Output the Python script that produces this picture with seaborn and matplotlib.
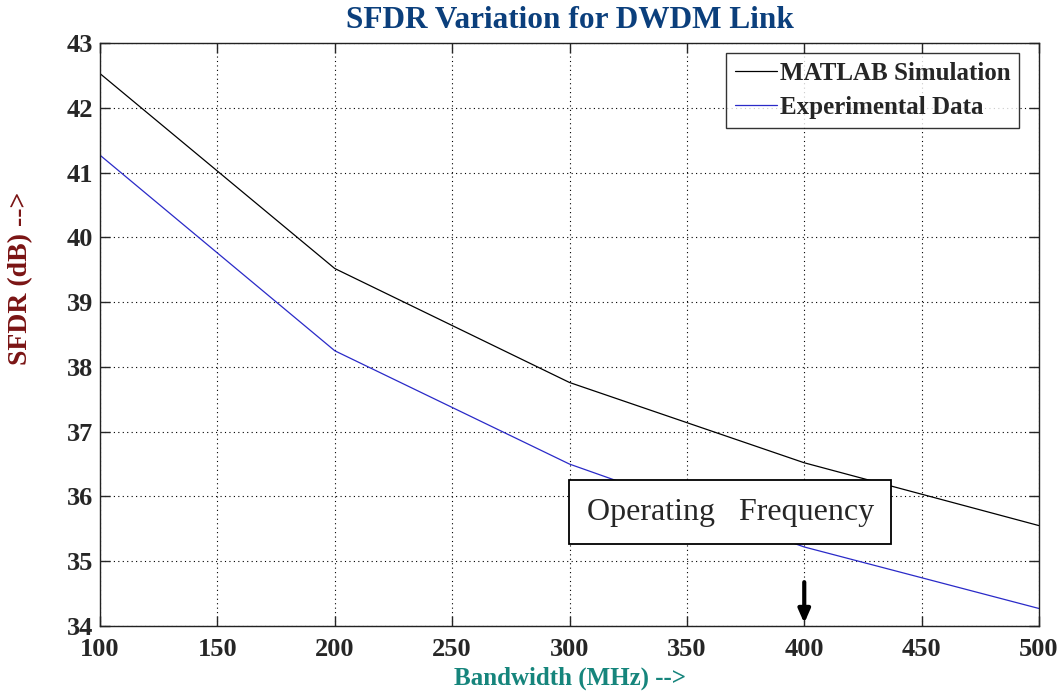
import matplotlib
matplotlib.use("Agg")
import matplotlib.pyplot as plt
import seaborn as sns
import pandas as pd

bandwidth = [100, 200, 300, 400, 500]
sim_sfdr = [42.53, 39.52, 37.76, 36.52, 35.55]
exp_sfdr = [41.27, 38.25, 36.50, 35.22, 34.27]
x_ticks = [100, 150, 200, 250, 300, 350, 400, 450, 500]
y_ticks = [34, 35, 36, 37, 38, 39, 40, 41, 42, 43]

sns.set_style("ticks")
plt.rcParams['font.family'] = ['Liberation Serif', 'DejaVu Serif']

fig = plt.figure(figsize=(10.64, 6.96), dpi=100)
ax = fig.add_axes([0.094, 0.1006, 0.8825, 0.8374])

df = pd.DataFrame({
    "Bandwidth": bandwidth * 2,
    "SFDR": sim_sfdr + exp_sfdr,
    "Series": ["MATLAB Simulation"] * len(bandwidth) + ["Experimental Data"] * len(bandwidth),
})
sns.lineplot(data=df, x="Bandwidth", y="SFDR", hue="Series",
             palette={"MATLAB Simulation": "black", "Experimental Data": "#2a2ac8"},
             linewidth=0.9, ax=ax)

ax.set_xlim(100, 500)
ax.set_ylim(34, 43)
ax.set_xticks(x_ticks)
ax.set_yticks(y_ticks)
ax.grid(True, linestyle=(0, (1, 3)), color="black", linewidth=0.8)
ax.tick_params(direction="in", top=True, right=True, length=7, width=1,
               labelsize=19, pad=5)
ax.tick_params(axis="x", pad=9)
for lab in ax.get_xticklabels() + ax.get_yticklabels():
    lab.set_fontweight("bold")
for sp in ax.spines.values():
    sp.set_visible(True)
    sp.set_linewidth(1.0)
    sp.set_color("#222222")

ax.set_title("SFDR Variation for DWDM Link", fontsize=22.5, fontweight="bold",
             color="#0b3f7c", pad=11)
ax.set_xlabel("Bandwidth (MHz) -->", fontsize=18, fontweight="bold",
              color="#16857c", labelpad=4)
ax.set_ylabel("SFDR (dB) -->", fontsize=20, fontweight="bold",
              color="#7a1414")
ax.yaxis.set_label_coords(-0.071, 0.597)

leg = ax.legend(loc="upper right", bbox_to_anchor=(0.9787, 0.9828),
                fontsize=18, frameon=True, fancybox=False,
                edgecolor="black", handlelength=1.7, handletextpad=0.1,
                borderpad=0.35, labelspacing=0.45, borderaxespad=0.0)
leg.get_frame().set_linewidth(1.0)
for t in leg.get_texts():
    t.set_fontweight("bold")

ax.text(368.4, 35.76, "Operating   Frequency", fontsize=23, ha="center", va="center",
        bbox=dict(boxstyle="square,pad=0.55", facecolor="white", edgecolor="black",
                  linewidth=1.3), zorder=5)
ax.annotate("", xy=(400, 34.0), xytext=(400, 34.72),
            arrowprops=dict(arrowstyle="-|>,head_width=0.35,head_length=0.8",
                            color="black", linewidth=3), zorder=6)

fig.savefig("out.png", dpi=100)
